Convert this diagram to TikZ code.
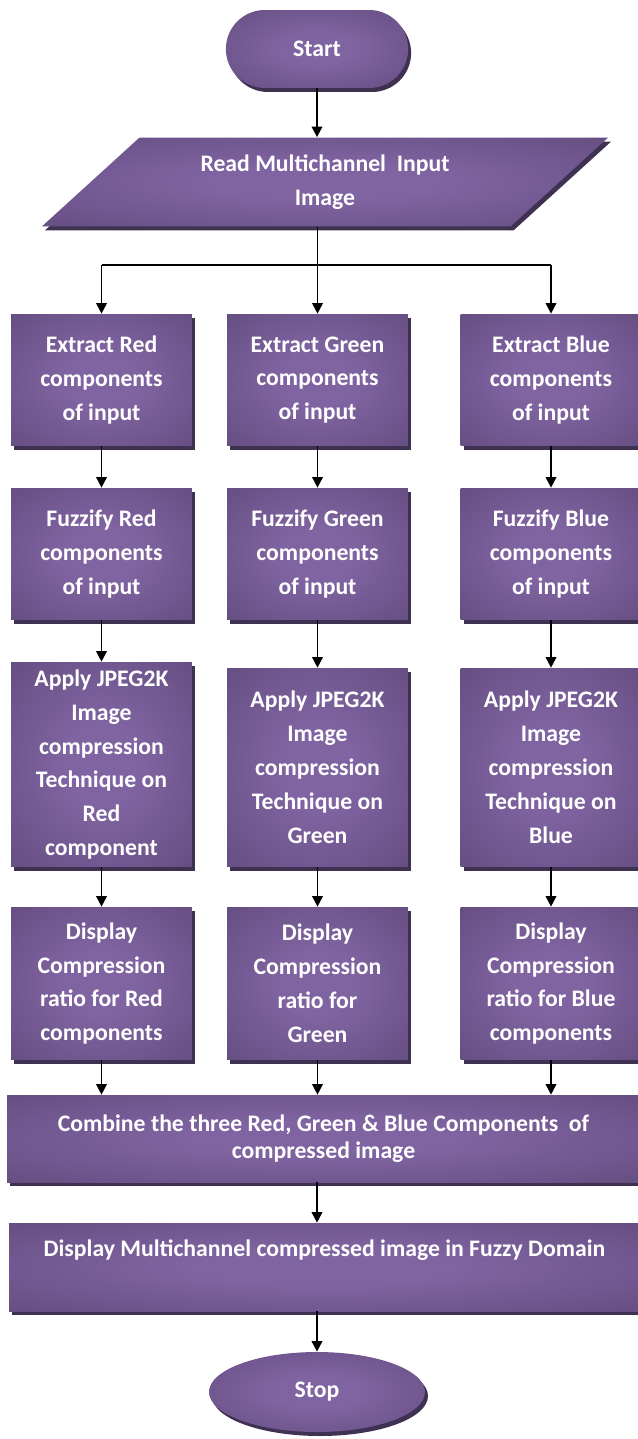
\documentclass[tikz,border=0pt]{standalone}
\usepackage{fontspec}
\setmainfont{Carlito}
\usepackage{tikz}
\usetikzlibrary{arrows.meta,shapes.geometric,shapes.misc,shadows,positioning}
\definecolor{figPurple}{HTML}{5F497A}
\definecolor{figLilac}{HTML}{8064A2}
\definecolor{figShadow}{HTML}{3F3151}
\pgfdeclareradialshading{glow}{\pgfpoint{0bp}{0bp}}{color(0bp)=(figLilac);
  color(10bp)=(figLilac); color(42bp)=(figPurple); color(50bp)=(figPurple)}

\begin{document}
\begin{tikzpicture}[
  x=0.02cm, y=-0.02cm,
  every node/.style={font=\bfseries\fontsize{13.5}{19.3}\selectfont,
    text=white, align=center},
  blk/.style={draw=none, shading=glow,
    drop shadow={shadow xshift=0.06cm, shadow yshift=-0.08cm,
      fill=figShadow, opacity=1}},
  stepbox/.style={blk, rectangle, minimum width=3.62cm, inner sep=1pt},
  widebox/.style={blk, rectangle, inner sep=2pt},
  arr/.style={-{Triangle[length=6pt, width=6pt]}, line width=1pt, black},
]
\useasboundingbox (0,0) rectangle (637,1439);

% Start and input
\node[blk, rounded rectangle, minimum width=3.88cm, minimum height=1.56cm]
  (start) at (317,49) {Start};
\node[blk, trapezium, trapezium left angle=44, trapezium right angle=136,
  trapezium stretches=true, minimum width=11.34cm, minimum height=1.78cm]
  (read) at (325,182) {Read Multichannel\ \ Input\\Image};

% Extract
\node[stepbox, minimum height=2.64cm] (exR) at (101.5,380)
  {Extract Red\\components\\of input};
\node[stepbox, minimum height=2.64cm] (exG) at (317.5,380)
  {Extract Green\\components\\of input};
\node[stepbox, minimum height=2.64cm] (exB) at (551,380)
  {Extract Blue\\components\\of input};

% Fuzzify
\node[stepbox, minimum height=2.64cm] (fzR) at (101.5,554)
  {Fuzzify Red\\components\\of input};
\node[stepbox, minimum height=2.64cm] (fzG) at (317.5,554)
  {Fuzzify Green\\components\\of input};
\node[stepbox, minimum height=2.64cm] (fzB) at (551,554)
  {Fuzzify Blue\\components\\of input};

% JPEG2K
\node[stepbox, minimum height=4.10cm] (apR) at (101.5,764.5)
  {Apply JPEG2K\\Image\\compression\\Technique on\\Red\\component};
\node[stepbox, minimum height=3.98cm] (apG) at (317.5,767.5)
  {Apply JPEG2K\\Image\\compression\\Technique on\\Green};
\node[stepbox, minimum height=3.98cm] (apB) at (551,767.5)
  {Apply JPEG2K\\Image\\compression\\Technique on\\Blue};

% Compression ratio
\node[stepbox, minimum height=3.06cm] (dpR) at (101.5,983.5)
  {Display\\Compression\\ratio for Red\\components};
\node[stepbox, minimum height=3.06cm] (dpG) at (317.5,983.5)
  {Display\\Compression\\ratio for\\Green};
\node[stepbox, minimum height=3.06cm] (dpB) at (551,983.5)
  {Display\\Compression\\ratio for Blue\\components};

% Combine and output
\node[widebox, minimum width=12.66cm, minimum height=1.74cm] (comb) at (323.5,1138.5)
  {Combine the three Red, Green \& Blue Components\ \ of\\[-4pt]compressed image};
\node[widebox, minimum width=12.62cm, minimum height=1.76cm, text depth=21pt]
  (disp) at (324.5,1267)
  {Display Multichannel compressed image in Fuzzy Domain};
\node[blk, ellipse, minimum width=4.32cm, minimum height=1.6cm]
  (stop) at (317,1392) {Stop};

% Connectors
\coordinate (split) at (317.5,265);
\draw[arr] (start.south) -- (start.south |- read.north);
\draw[line width=1pt] (read.south -| split) -- (split);
\draw[line width=1pt] (split) -- (split -| exR) (split) -- (split -| exB);
\draw[arr] (split -| exR) -- (exR);
\draw[arr] (split) -- (exG);
\draw[arr] (split -| exB) -- (exB);
\foreach \c in {R,G,B} {
  \draw[arr] (ex\c) -- (fz\c);
  \draw[arr] (fz\c) -- (ap\c);
  \draw[arr] (ap\c) -- (dp\c);
  \draw[arr] (dp\c.south) -- (dp\c.south |- comb.north);
}
\draw[arr] (comb.south -| start) -- (disp.north -| start);
\draw[arr] (disp.south -| start) -- (stop);

\end{tikzpicture}
\end{document}
